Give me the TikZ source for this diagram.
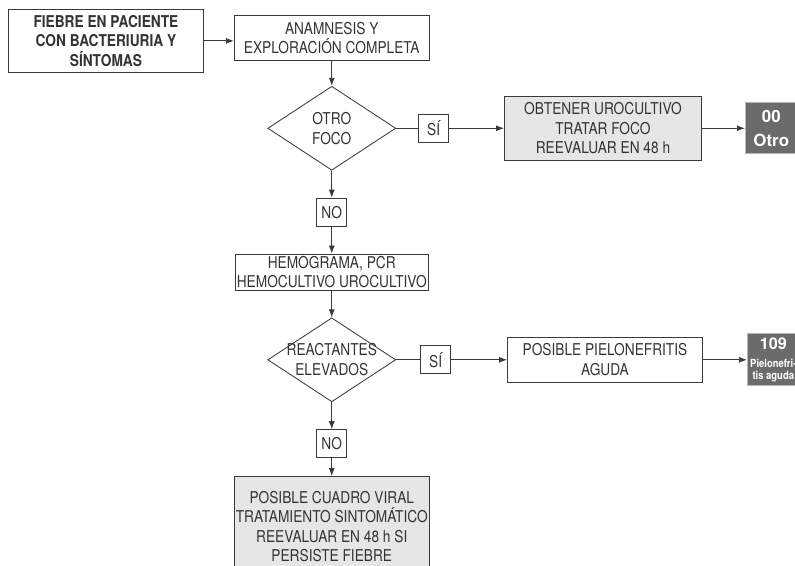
\documentclass[tikz,border=0pt]{standalone}
\usepackage{fontspec}
\setmainfont[FakeStretch=0.84]{TeX Gyre Heros}
\newfontfamily\chapfont{TeX Gyre Heros}
\newfontfamily\narrowfont[FakeStretch=0.84]{TeX Gyre Heros}
\usepackage{xcolor}
\usetikzlibrary{arrows.meta, positioning, shapes.geometric}
\definecolor{colInk}   {HTML}{333333}
\definecolor{colLine}  {HTML}{3A3A3A}
\definecolor{colGray15}{HTML}{E6E6E6}
\definecolor{colGray30}{HTML}{B8B8B8}
\definecolor{colGray60}{HTML}{6B6B6B}
\tikzset{
  block/.style={
    draw=colLine, line width=0.6pt, align=center, inner sep=1pt,
    text=colInk, font=\fontsize{11.6}{14}\selectfont
  },
  startbox/.style={block, minimum width=48.75mm, minimum height=15.75mm,
    font=\fontsize{11.6}{14}\selectfont\bfseries},
  stepbox/.style ={block, minimum width=48.75mm, minimum height=11.25mm},
  testbox/.style ={block, minimum width=47.5mm, minimum height=9.25mm},
  actbox/.style  ={block, fill=colGray15, minimum width=49.25mm, minimum height=16mm},
  viralbox/.style={block, fill=colGray15, minimum width=47.5mm, minimum height=25mm,
    font=\fontsize{11.6}{13.7}\selectfont},
  decision/.style={block, diamond, aspect=1.5, inner sep=0pt,
    minimum width=32mm, minimum height=21mm},
  answer/.style={block, minimum width=7.5mm, minimum height=7mm, inner sep=0pt},
  chapter/.style={
    draw=colGray30, fill=colGray60, line width=0.6pt, text=white,
    align=center, inner sep=0pt, minimum width=13mm, minimum height=12.75mm,
    font=\chapfont\fontsize{12}{17}\selectfont\bfseries
  },
  arr/.style={-{Latex[length=2mm,width=1.5mm]}, line width=0.6pt, draw=colLine},
  link/.style={line width=0.6pt, draw=colLine}
}
% zero-width lines, so the diamond keeps its own size
\newcommand{\dtext}[2]{\makebox[0pt]{#1}\\\makebox[0pt]{#2}}
\newcommand{\chaptext}[3]{%
{\chapfont\fontsize{11.5}{12}\selectfont #1}\\[4.5pt]
#2\\#3%
}

\begin{document}
\begin{tikzpicture}
        \useasboundingbox (0,0) rectangle (198.75mm,-141.5mm);

        %% ── Row 1: start → anamnesis ────────────────────────────────────
        \node[startbox, anchor=north west] (fiebre) at (2mm,-2.25mm)
          {FIEBRE EN PACIENTE\\CON BACTERIURIA Y\\SÍNTOMAS};

        \node[stepbox, right=7.5mm of fiebre, yshift=0.75mm] (anam)
          {ANAMNESIS Y\\EXPLORACIÓN COMPLETA};

        %% ── Row 2: other focus ──────────────────────────────────────────
        \node[decision, below=6.25mm of anam] (foco) {\dtext{OTRO}{FOCO}};
        \node[answer, right=5.5mm of foco] (si1) {SÍ};
        \node[actbox, right=13.75mm of si1] (urocult)
          {OBTENER UROCULTIVO\\TRATAR FOCO\\REEVALUAR EN 48 h};
        \node[chapter, right=10.75mm of urocult] (otro) {00\\Otro};

        %% ── Column: NO → lab tests ──────────────────────────────────────
        \node[answer, below=6.75mm of foco] (no1) {NO};
        \node[testbox, minimum height=9mm, below=6.75mm of no1] (hemo)
          {HEMOGRAMA, PCR\\HEMOCULTIVO UROCULTIVO};

        %% ── Row 3: reactants ────────────────────────────────────────────
        \node[decision, below=6.75mm of hemo] (react) {\dtext{REACTANTES}{ELEVADOS}};
        \node[answer, right=6mm of react] (si2) {SÍ};
        \node[block, minimum width=48.75mm, minimum height=11.25mm,
              right=14mm of si2] (piel) {POSIBLE PIELONEFRITIS\\AGUDA};
        \node[chapter, minimum height=13mm, right=11mm of piel,
              font=\narrowfont\bfseries\fontsize{8}{8.4}\selectfont] (cap109)
          {\chaptext{109}{Pielonefri-}{tis aguda}};

        %% ── Column: NO → viral ──────────────────────────────────────────
        \node[answer, below=6.75mm of react] (no2) {NO};
        \node[viralbox, below=4.5mm of no2] (viral)
          {POSIBLE CUADRO VIRAL\\TRATAMIENTO SINTOMÁTICO\\REEVALUAR EN 48 h SI\\PERSISTE FIEBRE};

        %% ── Connectors ──────────────────────────────────────────────────
        \draw[arr] (fiebre.east) -- (fiebre.east -| anam.west);
        \draw[arr] (anam.south) -- (foco.north);
        \draw[link] (foco.east) -- (si1.west);
        \draw[arr] (si1.east) -- (urocult.west);
        \draw[arr] (urocult.east) -- (otro.west);
        \draw[arr] (foco.south) -- (no1.north);
        \draw[arr] (no1.south) -- (hemo.north);
        \draw[arr] (hemo.south) -- (react.north);
        \draw[link] (react.east) -- (si2.west);
        \draw[arr] (si2.east) -- (piel.west);
        \draw[arr] (piel.east) -- (cap109.west);
        \draw[arr] (react.south) -- (no2.north);
        \draw[arr] (no2.south) -- (viral.north);

\end{tikzpicture}
\end{document}
